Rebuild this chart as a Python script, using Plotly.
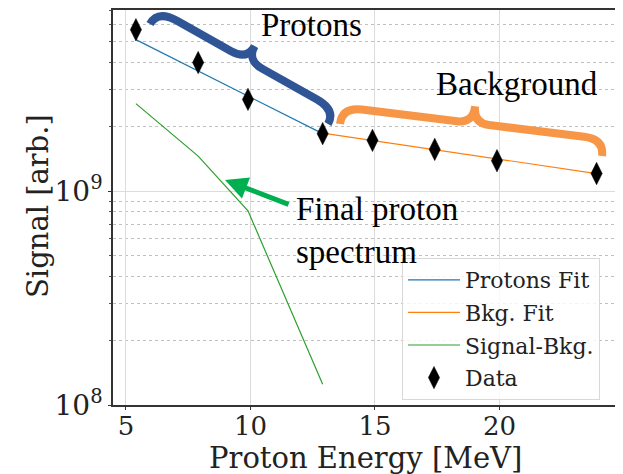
import plotly.graph_objects as go
import numpy as np

# ---- data ----
energy_data = [5.4, 7.9, 9.9, 12.9, 14.9, 17.4, 19.9, 23.9]
signal_data = [5.7e9, 4.0e9, 2.69e9, 1.86e9, 1.73e9, 1.57e9, 1.39e9, 1.21e9]

protons_fit_x = [5.4, 12.9]
protons_fit_y = [5.12e9, 1.86e9]

bkg_fit_x = [12.9, 23.9]
bkg_fit_y = [1.87e9, 1.21e9]

sig_minus_bkg_x = [5.4, 7.9, 9.9, 12.9]
sig_minus_bkg_y = [2.57e9, 1.46e9, 8.1e8, 1.25e8]

x_ticks = [5, 10, 15, 20]
y_major = [1e8, 1e9]
y_major_text = ["10<sup>8</sup>", "10<sup>9</sup>"]
y_minor = [2e8, 3e8, 4e8, 5e8, 6e8, 7e8, 8e8, 9e8, 2e9, 3e9, 4e9, 5e9, 6e9, 7e9]

# ---- layout geometry (page body has an 8px margin) ----
OFF = 8
SCR_W, SCR_H = 623, 474
W, H = SCR_W - OFF, SCR_H - OFF
PLOT_L, PLOT_R, PLOT_T, PLOT_B = 113, 618, 10, 405   # screen pixels
ML, MR, MT, MB = PLOT_L - OFF, SCR_W - PLOT_R, PLOT_T - OFF, SCR_H - PLOT_B
PW, PH = PLOT_R - PLOT_L, PLOT_B - PLOT_T


def px2paper(x, y):
    return (x - PLOT_L) / PW, (PLOT_B - y) / PH


def brace_path(p0, p1, h, r_end, r_mid):
    p0 = np.array(p0, float)
    p1 = np.array(p1, float)
    d = p1 - p0
    L = np.hypot(*d)
    u = d / L
    n = np.array([u[1], -u[0]])  # perpendicular, pointing "up" in screen
    m = L / 2

    def P(s, t):
        q = p0 + s * u + t * n
        a, b = px2paper(q[0], q[1])
        return f"{a:.5f},{b:.5f}"

    hh = h / 2
    return (f"M{P(0,0)} Q{P(0,hh)} {P(r_end,hh)} L{P(m-r_mid,hh)} "
            f"Q{P(m,hh)} {P(m,h)} Q{P(m,hh)} {P(m+r_mid,hh)} "
            f"L{P(L-r_end,hh)} Q{P(L,hh)} {P(L,0)}")


fig = go.Figure()

fig.add_trace(go.Scatter(x=protons_fit_x, y=protons_fit_y, mode="lines",
                         name="Protons Fit", legendgroup="a",
                         line=dict(color="#1f77b4", width=1.2)))
fig.add_trace(go.Scatter(x=bkg_fit_x, y=bkg_fit_y, mode="lines",
                         name="Bkg. Fit", legendgroup="b",
                         line=dict(color="#ff7f0e", width=1.2)))
fig.add_trace(go.Scatter(x=sig_minus_bkg_x, y=sig_minus_bkg_y, mode="lines",
                         name="Signal-Bkg.", legendgroup="c",
                         line=dict(color="#2ca02c", width=1.2)))
fig.add_trace(go.Scatter(x=energy_data, y=signal_data, mode="markers",
                         name="Data", legendgroup="d",
                         marker=dict(symbol="diamond-tall", size=16, color="black",
                                     line=dict(width=0.5, color="black"))))

font_axis = "DejaVu Serif"
font_ann = "Liberation Serif"

fig.update_layout(
    width=W, height=H,
    margin=dict(l=ML, r=MR, t=MT, b=MB, autoexpand=False),
    paper_bgcolor="white", plot_bgcolor="white",
    font=dict(family=font_axis, color="#222"),
    showlegend=True,
    legend=dict(x=px2paper(402, 0)[0], y=px2paper(0, 258)[1],
                xanchor="left", yanchor="top",
                bgcolor="rgba(255,255,255,0.8)", bordercolor="#d8d8d8", borderwidth=1,
                font=dict(size=22, family=font_axis, color="#222"),
                tracegroupgap=1, itemwidth=52),
)

fig.update_xaxes(
    range=[4.48, 24.76], tickvals=x_ticks, automargin=False,
    tickfont=dict(size=26, family=font_axis, color="#222"),
    ticks="outside", ticklen=3, tickcolor="#333", ticklabelstandoff=-6,
    showgrid=True, gridcolor="#dcdcdc", gridwidth=1,
    showline=True, linecolor="#333", linewidth=1.5, mirror=True,
    zeroline=False,
)
fig.update_yaxes(
    type="log", range=[8, 9.848], automargin=False,
    tickvals=y_major, ticktext=y_major_text,
    tickfont=dict(size=28, family=font_axis, color="#222"),
    ticks="outside", ticklen=3, tickcolor="#333",
    showgrid=True, gridcolor="#dcdcdc", gridwidth=1,
    minor=dict(tickvals=y_minor, showgrid=True, gridcolor="#c0c0c0", griddash="dot",
               gridwidth=1, ticks="outside", ticklen=2, tickcolor="#555"),
    showline=True, linecolor="#333", linewidth=1.5, mirror=True,
    zeroline=False,
)

# axis titles as annotations
tx, ty = px2paper(365, 458)
fig.add_annotation(x=tx, y=ty, xref="paper", yref="paper", text="Proton Energy [MeV]",
                   showarrow=False, xanchor="center", yanchor="middle",
                   font=dict(size=29, family=font_axis, color="#222"))
tx, ty = px2paper(38, 206)
fig.add_annotation(x=tx, y=ty, xref="paper", yref="paper", text="Signal [arb.]",
                   showarrow=False, xanchor="center", yanchor="middle", textangle=-90,
                   font=dict(size=29, family=font_axis, color="#222"))

# braces
fig.add_shape(type="path", xref="paper", yref="paper",
              path=brace_path((150, 24), (328, 124), 32, 22, 18),
              line=dict(color="#2f5597", width=8))
fig.add_shape(type="path", xref="paper", yref="paper",
              path=brace_path((340, 124), (602, 156), 34, 20, 16),
              line=dict(color="#f79646", width=8))

# text annotations
for txt, (px, py), anchor in [("Protons", (311, 25), "center"),
                              ("Background", (517, 84), "center"),
                              ("Final proton<br>spectrum", (294, 230), "left")]:
    ax_, ay_ = px2paper(px, py)
    fig.add_annotation(x=ax_, y=ay_, xref="paper", yref="paper", text=txt,
                       showarrow=False, xanchor=anchor, yanchor="middle", align="left",
                       font=dict(size=33, family=font_ann, color="black"))

# arrow
hx, hy = px2paper(225, 180)
fig.add_annotation(x=hx, y=hy, xref="paper", yref="paper", text="",
                   showarrow=True, ax=65, ay=25, arrowhead=2, arrowsize=0.9,
                   arrowwidth=5, arrowcolor="#00b050")

fig.write_html("out.html")
